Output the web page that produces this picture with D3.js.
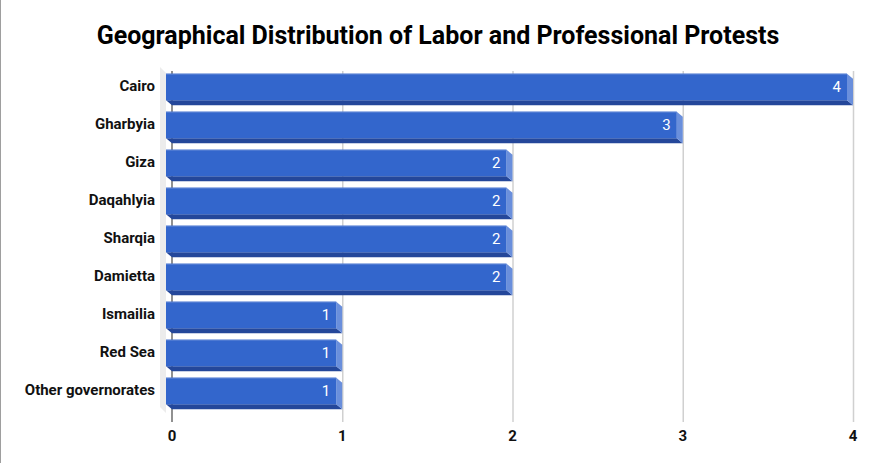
<!DOCTYPE html>
<html><head><meta charset="utf-8">
<script src="https://cdn.jsdelivr.net/npm/d3@7"></script>
<style>body{margin:0;background:#fff}svg{display:block}</style>
</head><body>
<script>
const categories = ["Cairo","Gharbyia","Giza","Daqahlyia","Sharqia","Damietta","Ismailia","Red Sea","Other governorates"];
const values = [4,3,2,2,2,2,1,1,1];
const ticks = [0,1,2,3,4];
const title = "Geographical Distribution of Labor and Professional Protests";

const W = 876, H = 463;
const svg = d3.select("body").append("svg").attr("width", W).attr("height", H);
svg.append("rect").attr("width", W).attr("height", H).attr("fill", "#fff");
svg.append("line").attr("x1", 0.5).attr("x2", 0.5).attr("y1", 0).attr("y2", H).attr("stroke", "#9e9e9e");

const dx = 6, dy = 5;
const x = d3.scaleLinear().domain([0, 4]).range([172, 853]);
const y = d3.scaleBand().domain(categories).range([68, 410]).paddingInner(0.3).paddingOuter(0.15);

// wall
const wTop = 67, wBot = 407;
svg.append("polygon")
  .attr("points", [[x(0)-2*dx, wTop],[x(0)-dx, wTop+dy+1],[x(0)-dx, wBot+dy+1],[x(0)-2*dx, wBot]].map(p=>p.join(",")).join(" "))
  .attr("fill", "#ececec");

// gridlines
svg.append("g").selectAll("line").data(ticks.slice(1)).join("line")
  .attr("x1", d=>x(d)+0.5).attr("x2", d=>x(d)+0.5).attr("y1", 71).attr("y2", 422)
  .attr("stroke", "#d0d0d0").attr("stroke-width", 1.5);
svg.append("line").attr("x1", x(0)).attr("x2", x(0)).attr("y1", 71).attr("y2", 422)
  .attr("stroke", "#555").attr("stroke-width", 1.3);

// bars
const g = svg.append("g");
const bh = y.bandwidth();
categories.forEach((c, i) => {
  const v = values[i];
  const x0 = x(0) - dx, x1 = x(v) - dx, t = y(c), b = t + bh;
  g.append("polygon").attr("points", [[x0,b],[x1,b],[x1+dx,b+dy],[x0+dx,b+dy]].map(p=>p.join(",")).join(" "))
    .attr("fill", "#24479a");
  g.append("polygon").attr("points", [[x1,t],[x1+dx,t+dy],[x1+dx,b+dy],[x1,b]].map(p=>p.join(",")).join(" "))
    .attr("fill", "#6a8fdc");
  g.append("rect").attr("x", x0).attr("y", t).attr("width", x1-x0).attr("height", bh).attr("fill", "#3366cc");
  g.append("line").attr("x1", x0).attr("x2", x1).attr("y1", t+0.5).attr("y2", t+0.5).attr("stroke", "#5a83d6").attr("stroke-width", 1);
  g.append("text").attr("x", x1 - 6).attr("y", t + bh/2 - 0.5).attr("dy", "0.36em")
    .attr("text-anchor", "end").attr("fill", "#fff")
    .style("font", "15px Roboto, sans-serif").text(v);
});

svg.append("g").selectAll("text").data(categories).join("text")
  .attr("x", 155).attr("y", d => y(d) + bh/2 - 1.5).attr("dy", "0.35em")
  .attr("text-anchor", "end").style("font", "bold 15px Roboto, sans-serif").attr("fill", "#111").text(d=>d);

svg.append("g").selectAll("text").data(ticks).join("text")
  .attr("x", d => x(d)).attr("y", 436).attr("dy", "0.35em")
  .attr("text-anchor", "middle").style("font", "bold 15px Roboto, sans-serif").attr("fill", "#111").text(d=>d);

svg.append("text").attr("x", 438).attr("y", 44).attr("text-anchor", "middle")
  .style("font", "bold 25px Roboto, sans-serif").attr("fill", "#000").text(title);
</script>
</body></html>
